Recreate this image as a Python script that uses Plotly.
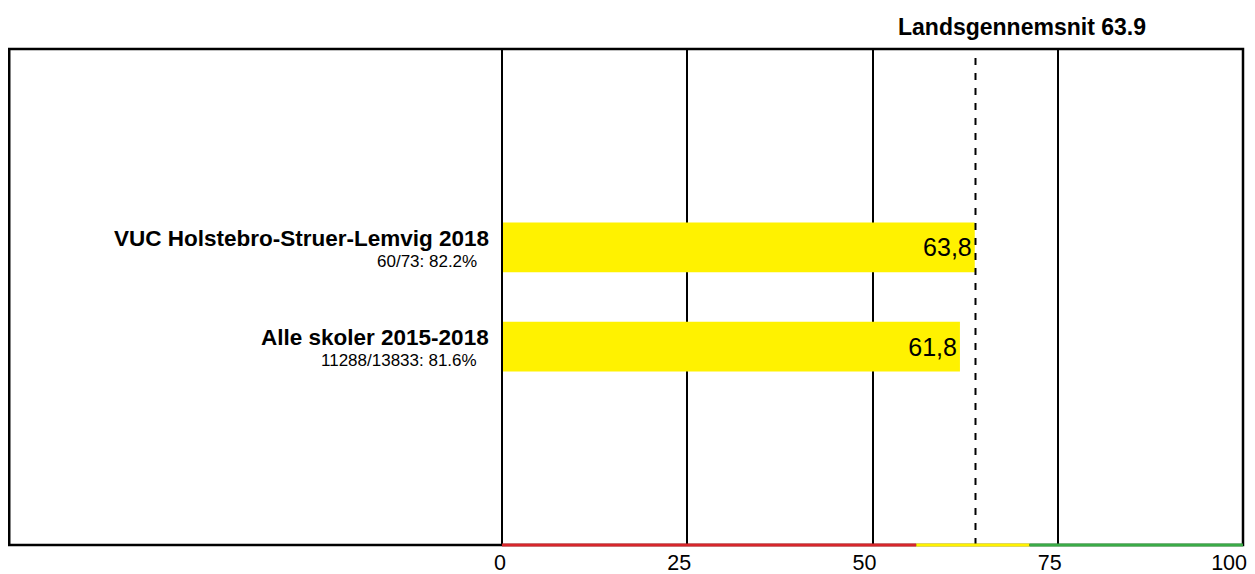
import plotly.graph_objects as go

# data
labels = ["VUC Holstebro-Struer-Lemvig 2018", "Alle skoler 2015-2018"]
sublabels = ["60/73: 82.2%", "11288/13833: 81.6%"]
values = [63.8, 61.8]
positions = [1, 0]
national_avg = 63.9
tick_vals = [0, 25, 50, 75, 100]
band_edges = [0, 55.9, 71.2, 100]
band_colors = ["#d7262b", "#fff200", "#3aab47"]

FONT = "Arial, Liberation Sans, sans-serif"

fig = go.Figure()
fig.add_trace(go.Bar(
    x=values, y=positions, orientation="h", width=0.5,
    marker=dict(color="#fff200", line=dict(width=0)),
    text=[f"{v:.1f}".replace(".", ",") for v in values],
    textposition="inside", insidetextanchor="end",
    textfont=dict(family=FONT, size=25, color="black"),
    constraintext="none", hoverinfo="skip",
))

shapes = [
    # outer frame, reaches left past the plot area
    dict(type="rect", xref="paper", yref="paper", x0=-0.665, x1=1, y0=0, y1=1,
         line=dict(color="black", width=2.5), layer="above"),
    # zero line (paper refs so it is not clipped to half width)
    dict(type="line", xref="paper", yref="paper", x0=0, x1=0, y0=0, y1=1,
         line=dict(color="black", width=2), layer="above"),
    # national average
    dict(type="line", xref="x", yref="paper", x0=national_avg, x1=national_avg, y0=0, y1=1,
         line=dict(color="black", width=2, dash="7px,8px"), layer="above"),
]
for i, c in enumerate(band_colors):
    shapes.append(dict(type="line", xref="x", yref="paper",
                       x0=band_edges[i], x1=band_edges[i + 1], y0=0, y1=0,
                       line=dict(color=c, width=3), layer="above"))

annotations = [dict(text="<b>Landsgennemsnit 63.9</b>", xref="paper", yref="paper",
                    x=0.7018, y=1.044, xanchor="center", yanchor="middle", showarrow=False,
                    font=dict(family=FONT, size=23, color="black"))]
for lab, sub, p in zip(labels, sublabels, positions):
    annotations.append(dict(text=f"<b>{lab}</b>", xref="paper", yref="y", x=-0.0148, y=p,
                            xanchor="right", yanchor="middle", yshift=9, showarrow=False,
                            font=dict(family=FONT, size=22.5, color="black")))
    annotations.append(dict(text=sub, xref="paper", yref="y", x=-0.031, y=p,
                            xanchor="right", yanchor="middle", yshift=-14, showarrow=False,
                            font=dict(family=FONT, size=17, color="black")))

fig.update_layout(
    width=1247, height=566,
    margin=dict(l=494, r=12, t=41, b=29, autoexpand=False),
    paper_bgcolor="white", plot_bgcolor="white",
    showlegend=False,
    shapes=shapes, annotations=annotations,
    xaxis=dict(range=[0, 100], tickvals=tick_vals, showgrid=True, gridcolor="black",
               gridwidth=2, zeroline=False, showline=False, ticks="", automargin=False,
               ticklabelposition="outside left", ticklabelshift=4, ticklabelstandoff=2,
               tickfont=dict(family=FONT, size=21.5, color="black")),
    yaxis=dict(range=[-2, 3], showgrid=False, zeroline=False, showticklabels=False,
               showline=False, ticks="", automargin=False),
)

fig.write_html("out.html")
